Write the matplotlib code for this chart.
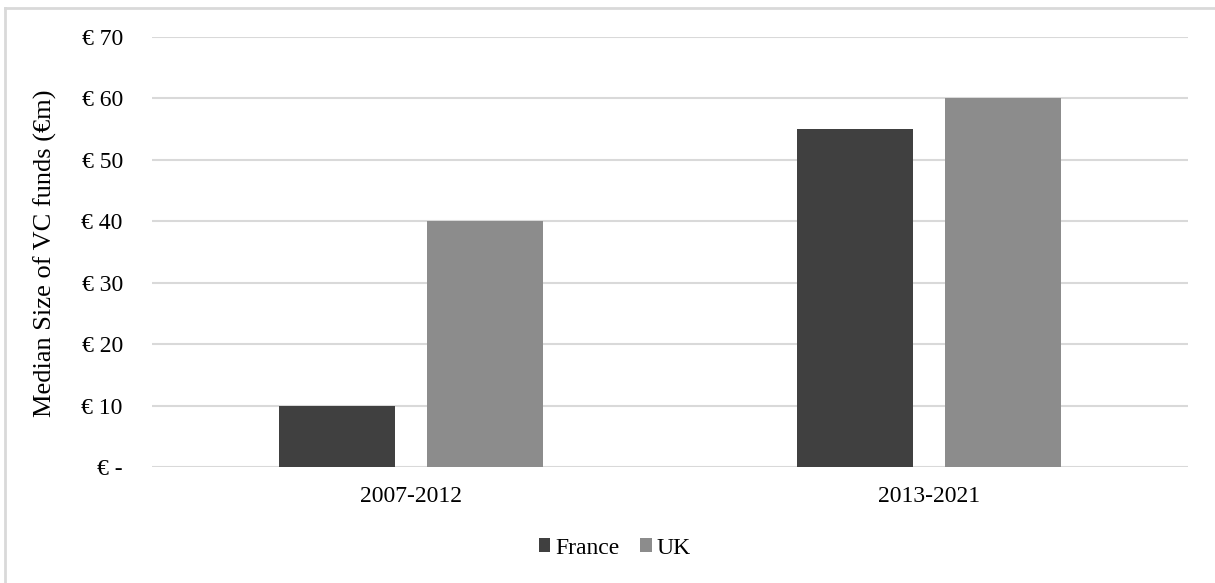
import matplotlib
matplotlib.use("Agg")
import matplotlib.pyplot as plt
from matplotlib.lines import Line2D
import numpy as np

periods = ["2007-2012", "2013-2021"]
series_names = ["France", "UK"]
france = [10, 55]
uk = [40, 60]
y_ticks = [0, 10, 20, 30, 40, 50, 60, 70]
y_tick_labels = ["€ -", "€ 10", "€ 20", "€ 30", "€ 40", "€ 50", "€ 60", "€ 70"]
y_label = "Median Size of VC funds (€m)"

colors = ["#404040", "#8c8c8c"]

plt.rcParams["font.family"] = ["Liberation Serif", "DejaVu Serif"]

fig = plt.figure(figsize=(12.15, 5.83), dpi=100)
ax = fig.add_axes([152 / 1215, 1 - 467 / 583, (1188 - 152) / 1215, (467 - 37) / 583])

x = np.arange(len(periods))
width = 0.224
offset = 0.1425
ax.bar(x - offset, france, width, color=colors[0], label=series_names[0], zorder=3)
ax.bar(x + offset, uk, width, color=colors[1], label=series_names[1], zorder=3)

ax.set_xlim(-0.5, len(periods) - 0.5)
ax.set_ylim(0, 70)
ax.set_yticks(y_ticks)
ax.set_yticklabels(y_tick_labels)
ax.set_xticks(x)
ax.set_xticklabels(periods)
ax.tick_params(axis="y", length=0, pad=21, labelsize=17)
ax.tick_params(axis="x", length=0, pad=14, labelsize=17)
ax.yaxis.grid(True, color="#d9d9d9", linewidth=1.5, zorder=0)
ax.set_axisbelow(True)
for s in ax.spines.values():
    s.set_visible(False)

fig.text(45 / 1215, 1 - 253 / 583, y_label, rotation=90, ha="center", va="center", fontsize=19)

ax.legend(loc="center", bbox_to_anchor=(0.506, 1 - 548 / 583), bbox_transform=fig.transFigure,
          ncol=2, frameon=False, fontsize=17, handlelength=0.5, handleheight=0.5,
          handletextpad=0.22, columnspacing=0.85)

# outer frame lines on the left and top edges
fig.add_artist(Line2D([5 / 1215, 5 / 1215], [0, 1 - 8 / 583], transform=fig.transFigure,
                      color="#d9d9d9", linewidth=2))
fig.add_artist(Line2D([5 / 1215, 1], [1 - 8 / 583, 1 - 8 / 583], transform=fig.transFigure,
                      color="#d9d9d9", linewidth=2))

fig.savefig("out.png", dpi=100)
